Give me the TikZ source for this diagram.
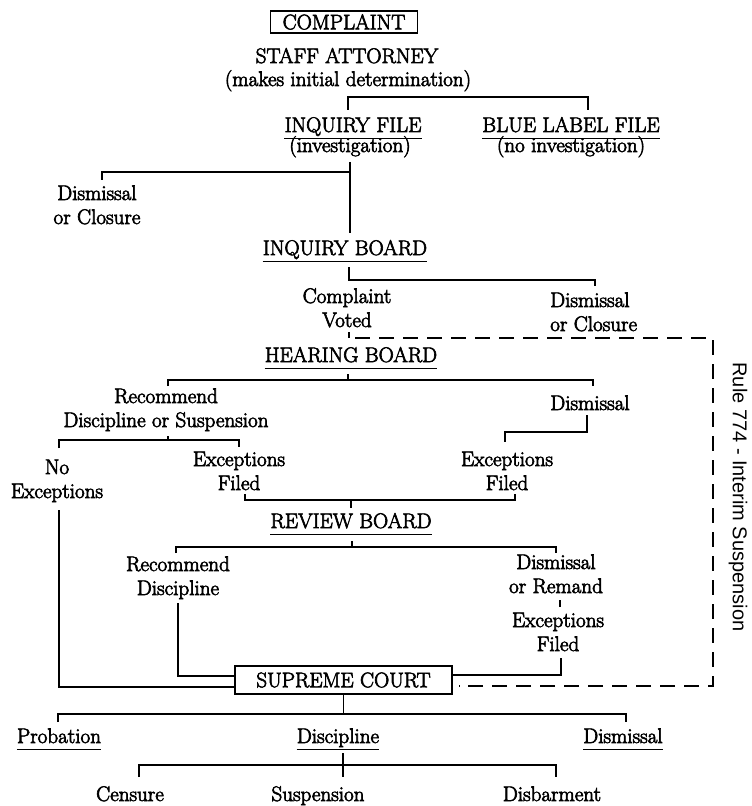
\documentclass[tikz,border=0pt]{standalone}
\usepackage{fontspec}
\newfontfamily\chartfont{Latin Modern Roman}[FakeBold=3]
\newfontfamily\rulefont{Liberation Sans}
\usetikzlibrary{calc}
\newcommand\ulnode[1]{\draw[ul] ($(#1.base west)+(0,6.5)$) -- ($(#1.base east)+(0,6.5)$);}
\begin{document}
\begin{tikzpicture}[x=0.75pt,y=-0.75pt,
  txt/.style={inner sep=0pt, font=\chartfont\fontsize{15.8}{18}\selectfont, align=center, anchor=base},
  boxnode/.style={draw, line width=1.3pt, inner sep=0pt, font=\chartfont\fontsize{15.8}{18}\selectfont, anchor=center},
  ln/.style={line width=1.1pt},
  ul/.style={line width=1.3pt},
  dsh/.style={line width=1.2pt, dash pattern=on 11pt off 7pt}]
\useasboundingbox (0,0) rectangle (752,806);

% nodes (multi-line nodes are placed at the baseline of their last line)
\node[boxnode, minimum width=110.25pt, minimum height=16.5pt] (complaint) at (344,22) {COMPLAINT};
\node[txt] (staff) at (347,63) {STAFF ATTORNEY};
\node[txt] (determ) at (348,86) {(makes initial determination)};
\node[txt] (inqfile) at (353,132) {INQUIRY FILE};
\node[txt] (inv) at (350,152) {(investigation)};
\node[txt] (blue) at (571,132) {BLUE LABEL FILE};
\node[txt] (noinv) at (571,152) {(no investigation)};
\node[txt] (dc1) at (97,224) {Dismissal\\or Closure};
\node[txt] (inqboard) at (345,255) {INQUIRY BOARD};
\node[txt] (voted) at (347,327) {Complaint\\Voted};
\node[txt, align=left, anchor=base west] (dc2) at (550,331) {Dismissal\\or Closure};
\node[txt] (hearing) at (351,362) {HEARING BOARD};
\node[txt] (recsusp) at (166,427) {Recommend\\Discipline or Suspension};
\node[txt] (hdism) at (590,410) {Dismissal};
\node[txt] (noexc) at (57,498) {No\\Exceptions};
\node[txt] (exc1) at (239,490) {Exceptions\\Filed};
\node[txt] (exc2) at (507,490) {Exceptions\\Filed};
\node[txt] (review) at (351,528) {REVIEW BOARD};
\node[txt] (recdisc) at (178,595) {Recommend\\Discipline};
\node[txt] (remand) at (556,593) {Dismissal\\or Remand};
\node[txt] (exc3) at (558,651) {Exceptions\\Filed};
\node[boxnode, minimum width=162.75pt, minimum height=21pt] (court) at (343.5,680) {SUPREME COURT};
\node[txt] (prob) at (59,743) {Probation};
\node[txt] (disc) at (338,743) {Discipline};
\node[txt] (sdism) at (623,743) {Dismissal};
\node[txt] (censure) at (130,801) {Censure};
\node[txt] (susp) at (318,801) {Suspension};
\node[txt] (disbar) at (552,801) {Disbarment};
\node[inner sep=0pt, rotate=-90, font=\rulefont\fontsize{15}{18}\selectfont] (rule) at (738,497) {Rule 774 - Interim Suspension};

% underlines
\ulnode{inqfile}
\ulnode{blue}
\ulnode{inqboard}
\ulnode{hearing}
\ulnode{review}
\ulnode{prob}
\ulnode{disc}
\ulnode{sdism}

% connectors
\draw[ln] (348,110) |- (588,97) -- (588,110);
\draw[ln] (350,162) -- (350,233);
\draw[ln] (350,172) -| (102,180);
\draw[ln] (349,267) |- (595,280) -- (595,286);
\draw[ln] (349,332) -- (349,338);
\draw[dsh] (355,338) -| (713,686) -- ($(court.east)+(6,6)$);
\draw[ln] (348,374) -- (348,380);
\draw[ln] (168,386) |- (593,380) -- (593,386);
\draw[ln] (168,436) -- (168,440);
\draw[ln] (59,448) |- (239,440) -- (239,447);
\draw[ln] (587,415) |- (505,432) -- (505,442);
\draw[ln] (245,494) |- (515,500) -- (515,494);
\draw[ln] (351,500) -- (351,508);
\draw[ln] (352,541) -- (352,547);
\draw[ln] (176,553) |- (556,547) -- (556,553);
\draw[ln] (560,600) -- (560,607);
\draw[ln] (561,658) |- ($(court.east)+(0,-5)$);
\draw[ln] (178,603) |- ($(court.west)+(0,-4)$);
\draw[ln] (59,510) |- ($(court.west)+(0,7)$);
\draw[ln] (court.south) -- (343.5,714);
\draw[ln] (58,722) |- (626,714) -- (626,722);
\draw[ln] (343,753) -- (343,777);
\draw[ln] (139,777) |- (556,765) -- (556,777);
\end{tikzpicture}
\end{document}
